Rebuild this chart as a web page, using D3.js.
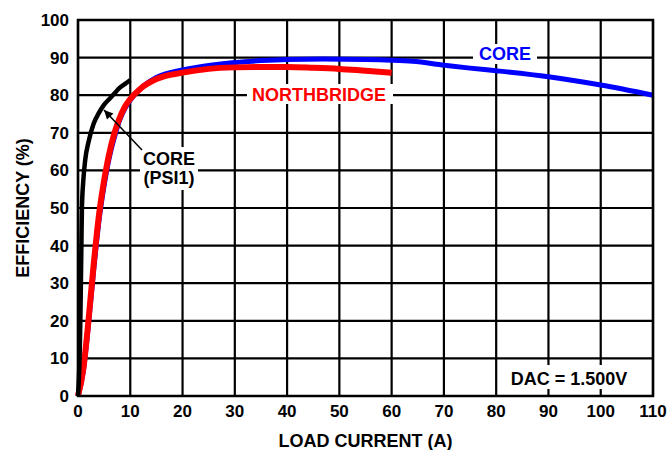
<!DOCTYPE html>
<html><head><meta charset="utf-8">
<script src="https://cdn.jsdelivr.net/npm/d3@7"></script>
<style>body{margin:0;background:#fff}svg{display:block}text{font-family:"Liberation Sans",Arial,sans-serif;font-weight:bold}</style>
</head><body><svg id="c" width="669" height="450"></svg>
<script>
const xTicks=[0,10,20,30,40,50,60,70,80,90,100,110];
const yTicks=[0,10,20,30,40,50,60,70,80,90,100];
const coreX=[0,1,2,3,4,5,6,7,8,9,10,12,15,20,25,30,35,40,47,55,60,64,70,75,80,90,100,110];
const coreY=[0,6.5,19,33.5,46.5,56,63.5,69,73.5,76.5,78.7,81.8,84.7,86.7,87.9,88.7,89.2,89.5,89.6,89.5,89.3,89,88,87.2,86.5,84.9,82.7,80];
const nbX=[0,1,2,3,4,4.5,5.2,6.4,7.7,9,10,12,15,20,25,30,35,40,45,50,55,60];
const nbY=[0,7,20,35,48,53,59,67,73,77,79,81.8,84.3,86,87,87.4,87.5,87.5,87.3,87,86.5,86];
const psiX=[0,0.3,0.45,0.55,0.65,0.75,1.0,1.4,2,3,4,5,6,7,8,9,10];
const psiY=[0,10,20,30,40,50,57,63,67.5,72.5,75.3,77.5,79,80.5,82,83,84];

const svg=d3.select("#c");
const x=d3.scaleLinear().domain([0,110]).range([78,653]);
const y=d3.scaleLinear().domain([0,100]).range([396,20]);

// grid
svg.append("g").selectAll("line").data(xTicks).join("line")
 .attr("x1",d=>x(d)).attr("x2",d=>x(d)).attr("y1",y(0)).attr("y2",y(100))
 .attr("stroke","#000").attr("stroke-width",2.2);
svg.append("g").selectAll("line").data(yTicks).join("line")
 .attr("y1",d=>y(d)).attr("y2",d=>y(d)).attr("x1",x(0)).attr("x2",x(110))
 .attr("stroke","#000").attr("stroke-width",2.2);

// tick labels
svg.append("g").selectAll("text").data(xTicks).join("text")
 .attr("x",d=>x(d)).attr("y",417).attr("text-anchor","middle").attr("font-size",17).text(d=>d);
svg.append("g").selectAll("text").data(yTicks).join("text")
 .attr("x",69).attr("y",d=>y(d)+6).attr("text-anchor","end").attr("font-size",17).text(d=>d);

// axis titles
svg.append("text").attr("x",(x(0)+x(110))/2).attr("y",447).attr("text-anchor","middle").attr("font-size",18).text("LOAD CURRENT (A)");
svg.append("text").attr("transform",`translate(29,${(y(0)+y(100))/2}) rotate(-90)`).attr("text-anchor","middle").attr("font-size",18).text("EFFICIENCY (%)");

// label backgrounds
function bg(x0,y0,w,h){svg.append("rect").attr("x",x0).attr("y",y0).attr("width",w).attr("height",h).attr("fill","#fff");}
bg(473,44,64,20); bg(247,84,146,20); bg(505,365,128,24); bg(140,147,58,43);

const line=d3.line().x(d=>x(d[0])).y(d=>y(d[1])).curve(d3.curveMonotoneX);
const zip=(a,b)=>a.map((v,i)=>[v,b[i]]);
svg.append("path").attr("d",line(zip(coreX,coreY))).attr("fill","none").attr("stroke","#0000ff").attr("stroke-width",5);
svg.append("path").attr("d",line(zip(nbX,nbY))).attr("fill","none").attr("stroke","#ff0000").attr("stroke-width",6);
svg.append("path").attr("d",line(zip(psiX,psiY))).attr("fill","none").attr("stroke","#000").attr("stroke-width",4.5);

// labels
svg.append("text").attr("x",505).attr("y",60).attr("text-anchor","middle").attr("font-size",18).attr("fill","#0000ff").text("CORE");
svg.append("text").attr("x",319).attr("y",101).attr("text-anchor","middle").attr("font-size",18).attr("fill","#ff0000").text("NORTHBRIDGE");
svg.append("text").attr("x",569).attr("y",385).attr("text-anchor","middle").attr("font-size",18).text("DAC = 1.500V");
svg.append("text").attr("x",169).attr("y",165).attr("text-anchor","middle").attr("font-size",18).text("CORE");
svg.append("text").attr("x",169).attr("y",184).attr("text-anchor","middle").attr("font-size",18).text("(PSI1)");

// arrow
svg.append("defs").append("marker").attr("id","ah").attr("viewBox","0 0 10 10").attr("refX",10).attr("refY",5)
 .attr("markerWidth",12).attr("markerHeight",9).attr("markerUnits","userSpaceOnUse").attr("orient","auto")
 .append("path").attr("d","M0,0L10,5L0,10Z").attr("fill","#000");
svg.append("line").attr("x1",142).attr("y1",150).attr("x2",104).attr("y2",110).attr("stroke","#000").attr("stroke-width",1.5).attr("marker-end","url(#ah)");

// border
svg.append("rect").attr("x",x(0)).attr("y",y(100)).attr("width",x(110)-x(0)).attr("height",y(0)-y(100)).attr("fill","none").attr("stroke","#000").attr("stroke-width",2.5);
</script></body></html>
